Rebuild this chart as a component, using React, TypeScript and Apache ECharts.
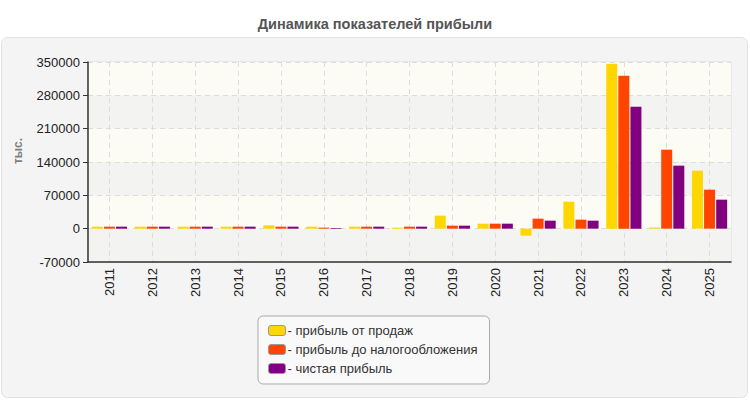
import { useEffect, useRef } from 'react';
import * as echarts from 'echarts';

const years = ['2011', '2012', '2013', '2014', '2015', '2016', '2017', '2018', '2019', '2020', '2021', '2022', '2023', '2024', '2025'];
const salesProfit = [4200, 4200, 4200, 4200, 7000, 4200, 4200, 2100, 27300, 10500, -14700, 56700, 346500, 2500, 121800];
const preTaxProfit = [4200, 4200, 4200, 4200, 4200, 2100, 4200, 4200, 6300, 10500, 21000, 18900, 321300, 165900, 81900];
const netProfit = [4200, 4200, 4200, 4200, 4200, 1400, 4200, 4200, 6300, 10500, 16800, 16800, 256200, 132300, 60900];

const seriesNames = ['прибыль от продаж', 'прибыль до налогообложения', 'чистая прибыль'];
const seriesColors = ['#ffd700', '#ff4500', '#800080'];

const font = '"Liberation Sans", Arial, sans-serif';

export default function App() {
  const chartRef = useRef<HTMLDivElement | null>(null);

  useEffect(() => {
    if (!chartRef.current) {
      return;
    }

    const chart = echarts.init(chartRef.current, undefined, { renderer: 'svg' });
    const seriesData = [salesProfit, preTaxProfit, netProfit];

    chart.setOption({
      animation: false,
      backgroundColor: '#ffffff',
      textStyle: { fontFamily: font },
      title: {
        text: 'Динамика показателей прибыли',
        left: 'center',
        top: 11,
        textStyle: { fontSize: 14.5, fontWeight: 'bold', color: '#555555', fontFamily: font },
      },
      graphic: [
        {
          type: 'rect',
          z: -10,
          silent: true,
          shape: { x: 1.5, y: 37.5, width: 746, height: 360, r: 6 },
          style: { fill: '#f4f4f4', stroke: '#e2e2e2', lineWidth: 1 },
        },
        {
          type: 'text',
          x: 18,
          y: 151,
          rotation: Math.PI / 2,
          style: {
            text: 'тыс.',
            fill: '#808080',
            font: `bold 12px ${font}`,
            align: 'center',
            verticalAlign: 'middle',
          },
        },
      ],
      grid: {
        left: 88,
        right: 19,
        top: 62,
        bottom: 138,
        show: true,
        backgroundColor: '#fcfcf4',
        borderColor: '#dddddd',
        borderWidth: 1,
      },
      legend: {
        orient: 'vertical',
        left: 258,
        top: 316,
        padding: [8, 12, 9, 10],
        itemGap: 6,
        itemWidth: 17,
        itemHeight: 10,
        icon: 'roundRect',
        backgroundColor: '#f9f9f9',
        borderColor: '#aaaaaa',
        borderWidth: 1,
        borderRadius: 5,
        formatter: (name: string) => `- ${name}`,
        itemStyle: { borderColor: '#999999', borderWidth: 1 },
        textStyle: { fontSize: 13, color: '#333333', padding: [0, 0, 0, -3], fontFamily: font },
        data: seriesNames,
      },
      xAxis: {
        type: 'category',
        data: years,
        axisLine: { onZero: false, lineStyle: { color: '#333333', width: 1.5 } },
        axisTick: { alignWithLabel: true, length: 5, lineStyle: { color: '#333333' } },
        axisLabel: { rotate: 90, fontSize: 13, color: '#222222', margin: 6, fontFamily: font },
        splitLine: {
          show: true,
          alignWithLabel: true,
          lineStyle: { color: '#dddddd', type: [5, 4] },
        },
      },
      yAxis: {
        type: 'value',
        min: -70000,
        max: 350000,
        interval: 70000,
        axisLine: { show: true, lineStyle: { color: '#333333', width: 1.5 } },
        axisTick: { show: true, length: 5, lineStyle: { color: '#333333' } },
        axisLabel: {
          fontSize: 13,
          color: '#222222',
          margin: 8,
          fontFamily: font,
          formatter: (v: number) => String(v),
        },
        splitLine: { lineStyle: { color: '#dddddd', type: [5, 4] } },
        splitArea: { show: true, areaStyle: { color: ['#f3f3f1', '#fcfcf4'] } },
      },
      series: seriesNames.map((name, i) => ({
        name,
        type: 'bar',
        data: seriesData[i],
        barWidth: 11,
        barGap: '10%',
        itemStyle: { color: seriesColors[i] },
      })),
    });

    return () => {
      chart.dispose();
    };
  }, []);

  return (
    <div
      ref={chartRef}
      style={{ position: 'fixed', left: 0, top: 0, width: 750, height: 400 }}
    />
  );
}
